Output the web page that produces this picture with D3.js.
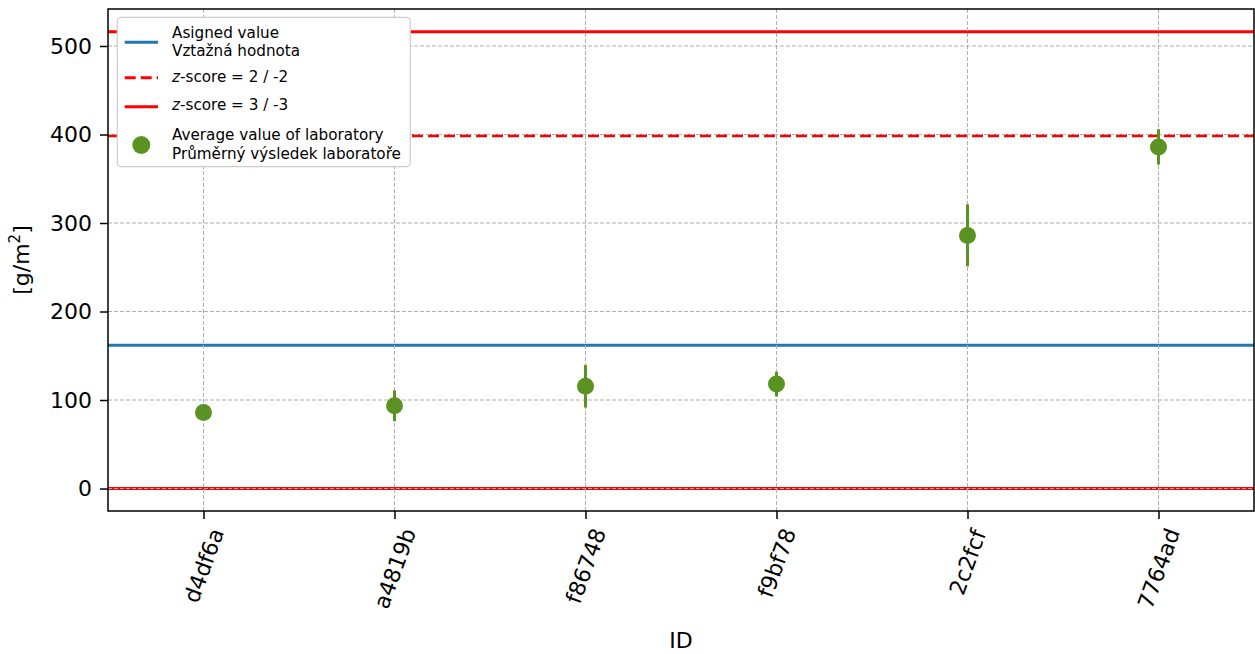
<!DOCTYPE html>
<html>
<head>
<meta charset="utf-8">
<script src="https://cdn.jsdelivr.net/npm/d3@7"></script>
<style>
  body { margin: 0; background: #fff; }
  svg { display: block; font-family: "DejaVu Sans", sans-serif; }
</style>
</head>
<body>
<svg id="chart" width="1255" height="654"></svg>
<script>
// ---- data ----
const labIds = ["d4df6a", "a4819b", "f86748", "f9bf78", "2c2fcf", "7764ad"];
const labMeans = [86, 93.5, 115.5, 118, 286, 386];
const labErrors = [4, 17.5, 24, 14, 35, 20];
const assignedValue = 162;
const z2Limits = [398.5, 0];
const z3Limits = [516, 0];
const yTicks = [0, 100, 200, 300, 400, 500];
const legendLabels = [
  ["Asigned value", "Vztažná hodnota"],
  ["z-score = 2 / -2"],
  ["z-score = 3 / -3"],
  ["Average value of laboratory", "Průměrný výsledek laboratoře"]
];

// ---- layout ----
const svg = d3.select("#chart");
const L = 108, R = 1254, T = 9, B = 511;
const green = "#5a9321", blue = "#1f77b4", red = "#ff0000";

const x = d3.scaleLinear().domain([-0.5, labIds.length - 0.5]).range([L, R]);
const y = d3.scaleLinear().domain([-25.4, 541.8]).range([B, T]);

svg.append("defs").append("clipPath").attr("id", "clip")
  .append("rect").attr("x", L).attr("y", T).attr("width", R - L).attr("height", B - T);

const plot = svg.append("g").attr("clip-path", "url(#clip)");

// reference lines
plot.append("line").attr("x1", L).attr("x2", R)
  .attr("y1", y(assignedValue)).attr("y2", y(assignedValue))
  .attr("stroke", blue).attr("stroke-width", 3);
z3Limits.forEach(v => {
  plot.append("line").attr("x1", L).attr("x2", R).attr("y1", y(v)).attr("y2", y(v))
    .attr("stroke", red).attr("stroke-width", 3);
});
z2Limits.forEach(v => {
  plot.append("line").attr("x1", L).attr("x2", R).attr("y1", y(v)).attr("y2", y(v))
    .attr("stroke", red).attr("stroke-width", 3).attr("stroke-dasharray", "11,5");
});

// grid
const grid = plot.append("g").attr("stroke", "#b0b0b0").attr("stroke-width", 1)
  .attr("stroke-dasharray", "4,2");
yTicks.forEach(v => {
  grid.append("line").attr("x1", L).attr("x2", R).attr("y1", y(v)).attr("y2", y(v));
});
labIds.forEach((d, i) => {
  grid.append("line").attr("x1", x(i)).attr("x2", x(i)).attr("y1", T).attr("y2", B);
});

// error bars and points
labIds.forEach((d, i) => {
  plot.append("line").attr("x1", x(i)).attr("x2", x(i))
    .attr("y1", y(labMeans[i] - labErrors[i])).attr("y2", y(labMeans[i] + labErrors[i]))
    .attr("stroke", green).attr("stroke-width", 3);
  plot.append("circle").attr("cx", x(i)).attr("cy", y(labMeans[i])).attr("r", 8.5)
    .attr("fill", green);
});

// axes
const yAxis = svg.append("g").attr("transform", `translate(${L},0)`)
  .call(d3.axisLeft(y).tickValues(yTicks).tickSize(8).tickPadding(8));
const xAxis = svg.append("g").attr("transform", `translate(0,${B})`)
  .call(d3.axisBottom(x).tickValues(d3.range(labIds.length)).tickSize(8).tickFormat(i => labIds[i]));
[yAxis, xAxis].forEach(a => {
  a.select(".domain").remove();
  a.selectAll(".tick line").attr("stroke", "#000").attr("stroke-width", 1.5);
  a.selectAll("text").attr("font-family", "DejaVu Sans").attr("font-size", 22).attr("fill", "#000");
});

// rotate x tick labels (centered bbox under tick)
xAxis.selectAll(".tick text").each(function () {
  const t = d3.select(this);
  t.attr("y", 0).attr("dy", "0.35em").attr("text-anchor", "end")
    .attr("transform", "rotate(-70)");
  const tick = this.parentNode;
  const g = d3.select(tick).append("g");
  g.node().appendChild(this);
  const bb = g.node().getBBox();
  const cx = bb.x + bb.width / 2;
  g.attr("transform", `translate(${-cx},${14 - bb.y})`);
});

// frame
svg.append("rect").attr("x", L).attr("y", T).attr("width", R - L).attr("height", B - T)
  .attr("fill", "none").attr("stroke", "#000").attr("stroke-width", 1.5);

// axis labels
svg.append("text").attr("x", (L + R) / 2).attr("y", 648).attr("text-anchor", "middle")
  .attr("font-size", 22).text("ID");
const yl = svg.append("text").attr("transform", `translate(29,${(T + B) / 2}) rotate(-90)`)
  .attr("text-anchor", "middle").attr("font-size", 22);
yl.append("tspan").text("[g/m");
yl.append("tspan").attr("font-size", 15).attr("dy", -9).text("2");
yl.append("tspan").attr("dy", 9).text("]");

// legend
const lg = svg.append("g");
lg.append("rect").attr("x", 117.3).attr("y", 17.3).attr("width", 293).attr("height", 149.4)
  .attr("rx", 4).attr("fill", "#fff")
  .attr("stroke", "#cccccc").attr("stroke-width", 1.2);
const hx1 = 124.7, hx2 = 158, tx = 172, fs = 15.2;
lg.append("line").attr("x1", hx1).attr("x2", hx2).attr("y1", 42.3).attr("y2", 42.3)
  .attr("stroke", blue).attr("stroke-width", 3);
lg.append("line").attr("x1", hx1).attr("x2", hx2).attr("y1", 77.7).attr("y2", 77.7)
  .attr("stroke", red).attr("stroke-width", 3).attr("stroke-dasharray", "11,5");
lg.append("line").attr("x1", hx1).attr("x2", hx2).attr("y1", 106.7).attr("y2", 106.7)
  .attr("stroke", red).attr("stroke-width", 3);
lg.append("circle").attr("cx", 141.3).attr("cy", 145).attr("r", 9).attr("fill", green);

function legText(yc, str) {
  const t = lg.append("text").attr("x", tx).attr("y", yc).attr("dy", "0.36em")
    .attr("font-size", fs).attr("fill", "#000");
  if (str.startsWith("z-")) {
    t.append("tspan").attr("font-style", "italic").text("z");
    t.append("tspan").text(str.slice(1));
  } else t.text(str);
}
legText(32.3, legendLabels[0][0]);
legText(50.7, legendLabels[0][1]);
legText(76.7, legendLabels[1][0]);
legText(105, legendLabels[2][0]);
legText(135, legendLabels[3][0]);
legText(153.3, legendLabels[3][1]);
</script>
</body>
</html>
